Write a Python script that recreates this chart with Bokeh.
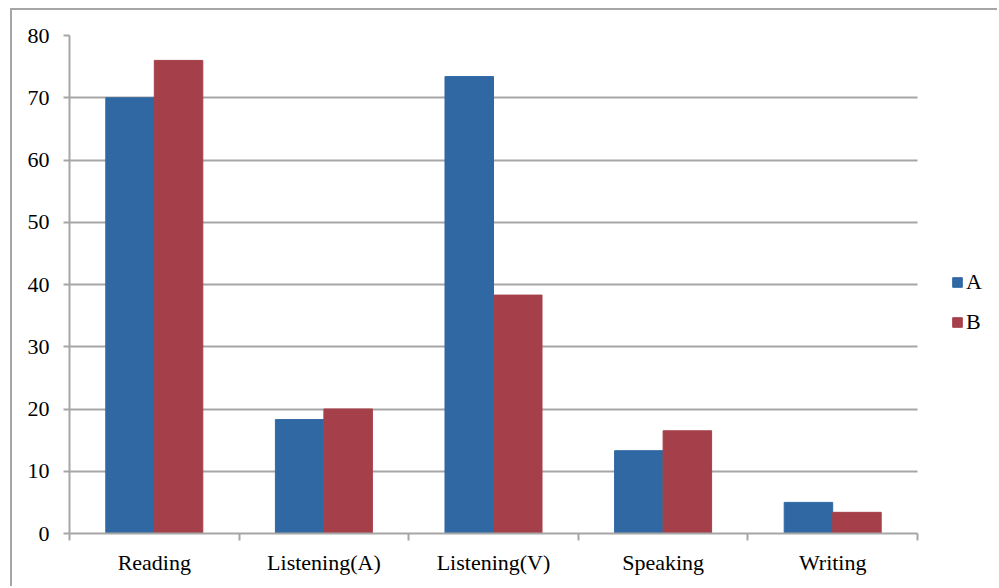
from bokeh.plotting import figure
from bokeh.models import Range1d, FixedTicker, Legend, LegendItem, ColumnDataSource
from bokeh.transform import dodge
from bokeh.embed import file_html
from bokeh.resources import INLINE

categories = ["Reading", "Listening(A)", "Listening(V)", "Speaking", "Writing"]
series_names = ["A", "B"]
values_a = [70.0, 18.3, 73.4, 13.3, 5.0]
values_b = [76.0, 20.0, 38.3, 16.5, 3.4]
y_ticks = [0, 10, 20, 30, 40, 50, 60, 70, 80]

BLUE = "#2F68A3"
RED = "#A5404A"
GRAY = "#a6a6a6"
FONT = "Liberation Serif"

n = len(categories)
centers = [i + 0.5 for i in range(n)]
bounds = list(range(n + 1))
src = ColumnDataSource(dict(x=centers, a=values_a, b=values_b))

CW, CH = 987, 578
BL, BR = 57, 2
frame_w = CW - BL - BR
axis_w = 848  # pixel width of the category area
x_end = n * frame_w / axis_w

p = figure(width=CW, height=CH, output_backend="svg", toolbar_location=None,
           x_range=Range1d(0, x_end), y_range=Range1d(0, 80),
           min_border_left=BL, min_border_right=BR, min_border_top=25, min_border_bottom=55,
           background_fill_color="white", border_fill_color="white",
           styles={"margin-left": "10px", "margin-top": "8px",
                   "border-top": "2px solid #a6a6a6", "border-left": "2px solid #a6a6a6"})
p.outline_line_color = None

bw = 0.286
ra = p.vbar(x=dodge("x", -bw / 2, range=p.x_range), top="a", width=bw, source=src,
            fill_color=BLUE, line_color=BLUE)
rb = p.vbar(x=dodge("x", bw / 2, range=p.x_range), top="b", width=bw, source=src,
            fill_color=RED, line_color=RED)

# x axis
xa = p.xaxis[0]
xa.bounds = (0, n)
xa.ticker = FixedTicker(ticks=centers, minor_ticks=bounds)
xa.major_label_overrides = {c: lab for c, lab in zip(centers, categories)}
xa.major_tick_line_color = None
xa.major_tick_out = 0
xa.major_tick_in = 0
xa.minor_tick_out = 7
xa.minor_tick_in = 0
xa.minor_tick_line_color = GRAY
xa.minor_tick_line_width = 2
xa.axis_line_color = GRAY
xa.axis_line_width = 2
xa.major_label_text_font = FONT
xa.major_label_text_font_size = "22px"
xa.major_label_text_color = "black"
xa.major_label_standoff = 9

# y axis
ya = p.yaxis[0]
ya.ticker = FixedTicker(ticks=y_ticks, minor_ticks=[])
ya.major_tick_out = 6
ya.major_tick_in = 0
ya.major_tick_line_color = GRAY
ya.major_tick_line_width = 2
ya.minor_tick_line_color = None
ya.axis_line_color = GRAY
ya.axis_line_width = 2
ya.major_label_text_font = FONT
ya.major_label_text_font_size = "22px"
ya.major_label_text_color = "black"
ya.major_label_standoff = 14

p.xgrid.visible = False
p.ygrid.ticker = FixedTicker(ticks=y_ticks)
p.ygrid.cross_bounds = (0, n)
p.ygrid.grid_line_color = GRAY
p.ygrid.grid_line_width = 2

legend = Legend(items=[LegendItem(label=series_names[0], renderers=[ra]),
                       LegendItem(label=series_names[1], renderers=[rb])],
                location=(882, 198))
legend.label_text_font = FONT
legend.label_text_font_size = "22px"
legend.label_text_color = "black"
legend.label_height = 22
legend.glyph_width = 12
legend.glyph_height = 12
legend.label_standoff = 3
legend.spacing = 14
legend.padding = 0
legend.margin = 0
legend.border_line_color = None
legend.background_fill_alpha = 0
p.add_layout(legend, "center")

open("out.html", "w").write(file_html(p, INLINE))
